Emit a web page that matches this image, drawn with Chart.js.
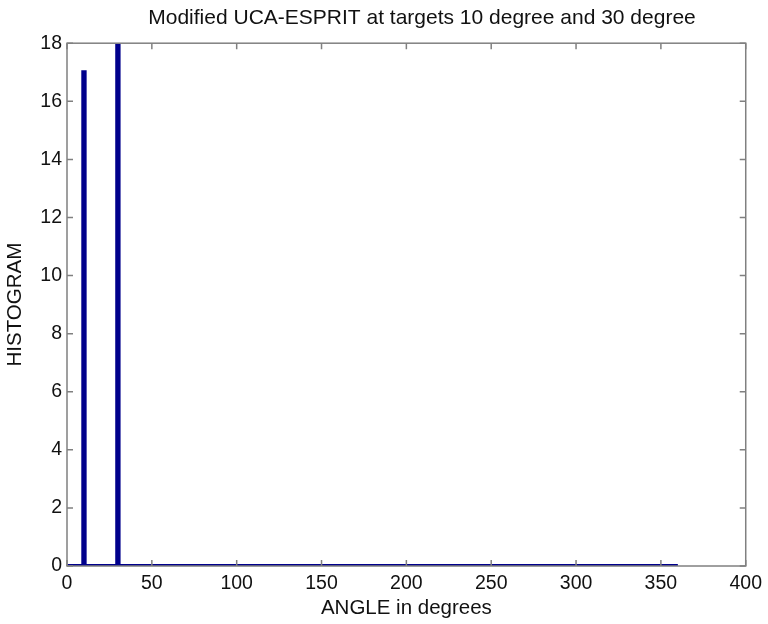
<!DOCTYPE html>
<html>
<head>
<meta charset="utf-8">
<script src="https://cdn.jsdelivr.net/npm/chart.js@4"></script>
<style>
  html, body { margin: 0; padding: 0; background: #fff; }
  #wrap { width: 768px; height: 624px; }
</style>
</head>
<body>
<div id="wrap"><canvas id="hist"></canvas></div>
<script>
// histogram of estimated angles: two one-degree bins, zero everywhere else
const angles = [0, 9.6, 9.6, 10.4, 10.4, 29.6, 29.6, 30.4, 30.4, 360];
const counts = [0, 0, 17, 17, 0, 0, 18, 18, 0, 0];
const xTicks = [0, 50, 100, 150, 200, 250, 300, 350, 400];
const yTicks = [0, 2, 4, 6, 8, 10, 12, 14, 16, 18];

const points = angles.map((a, i) => ({ x: a, y: counts[i] }));

// matlab style box with inward ticks on all four sides
const boxTicks = {
  id: 'boxTicks',
  afterLayout(chart) {
    // the original title sits a little right of the canvas centre
    if (chart.titleBlock) chart.titleBlock.left = 98;
  },
  afterDraw(chart) {
    const { ctx, chartArea: a, scales } = chart;
    ctx.save();
    ctx.strokeStyle = '#808080';
    ctx.lineWidth = 1.5;
    ctx.strokeRect(a.left, a.top, a.right - a.left, a.bottom - a.top);
    ctx.beginPath();
    xTicks.forEach(v => {
      const px = scales.x.getPixelForValue(v);
      ctx.moveTo(px, a.bottom); ctx.lineTo(px, a.bottom - 6);
      ctx.moveTo(px, a.top); ctx.lineTo(px, a.top + 6);
    });
    yTicks.forEach(v => {
      const py = scales.y.getPixelForValue(v);
      ctx.moveTo(a.left, py); ctx.lineTo(a.left + 6, py);
      ctx.moveTo(a.right, py); ctx.lineTo(a.right - 6, py);
    });
    ctx.stroke();
    ctx.restore();
  }
};

const family = '"Liberation Sans", Arial, sans-serif';
const tickFont = { family, size: 19.5 };
const labelFont = { family, size: 20.5 };

new Chart(document.getElementById('hist'), {
  type: 'line',
  data: {
    datasets: [{
      data: points,
      borderColor: '#00008c',
      borderWidth: 4,
      borderJoinStyle: 'miter',
      pointRadius: 0,
      tension: 0,
      fill: false
    }]
  },
  options: {
    responsive: true,
    maintainAspectRatio: false,
    animation: false,
    layout: { padding: { left: 0, right: 22, top: 0, bottom: 0 } },
    plugins: {
      legend: { display: false },
      tooltip: { enabled: false },
      title: {
        display: true,
        text: 'Modified UCA-ESPRIT at targets 10 degree and 30 degree',
        color: '#111',
        font: { family, size: 21, weight: 'normal' },
        padding: { top: 6, bottom: 12 }
      }
    },
    scales: {
      x: {
        type: 'linear',
        min: 0,
        max: 400,
        afterBuildTicks(s) { s.ticks = xTicks.map(v => ({ value: v })); },
        afterFit(s) { s.height = 58; },
        grid: { display: false, drawTicks: false },
        border: { display: false },
        ticks: { color: '#111', font: tickFont, padding: 6, maxRotation: 0 },
        title: {
          display: true,
          text: 'ANGLE in degrees',
          color: '#111',
          font: labelFont,
          padding: { top: 0, bottom: 3 }
        }
      },
      y: {
        type: 'linear',
        min: 0,
        max: 18,
        afterBuildTicks(s) { s.ticks = yTicks.map(v => ({ value: v })); },
        afterFit(s) { s.width = 67; },
        grid: { display: false, drawTicks: false },
        border: { display: false },
        ticks: { color: '#111', font: tickFont, padding: 5 },
        title: {
          display: true,
          text: 'HISTOGRAM',
          color: '#111',
          font: labelFont,
          padding: { top: 3, bottom: 0 }
        }
      }
    }
  },
  plugins: [boxTicks]
});
</script>
</body>
</html>
